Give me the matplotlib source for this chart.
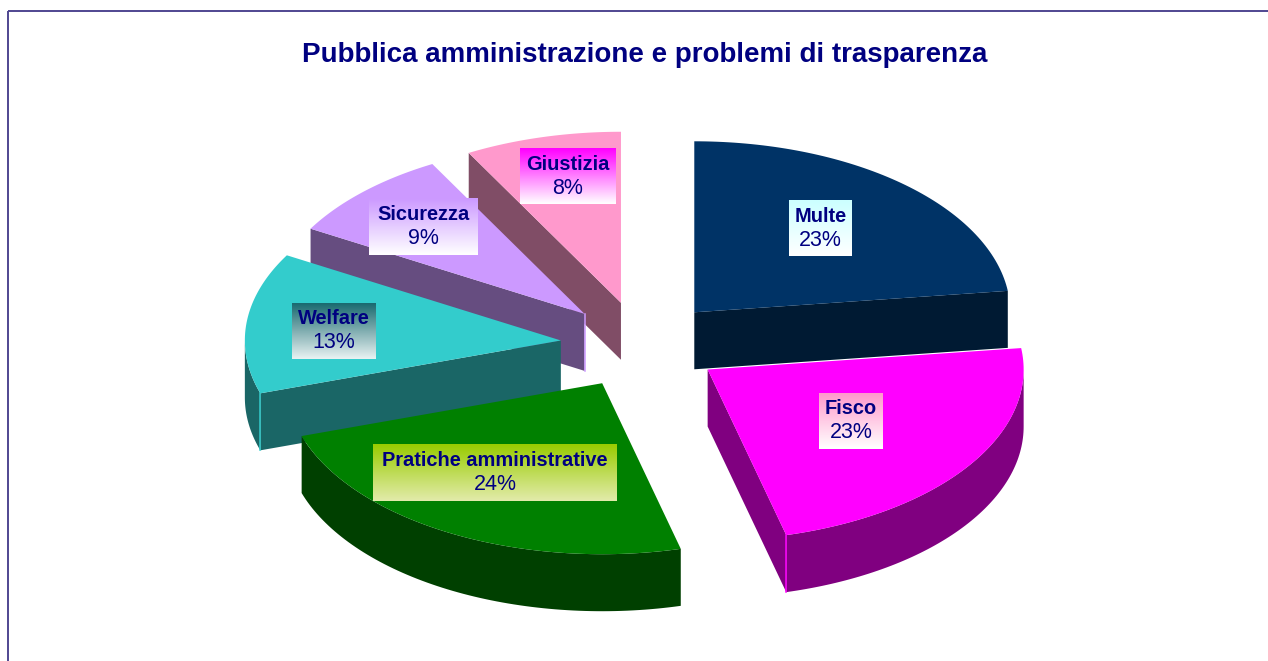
import numpy as np
import matplotlib
matplotlib.use("Agg")
import matplotlib.pyplot as plt
from matplotlib.colors import LinearSegmentedColormap
from matplotlib.patches import Polygon, Rectangle

title = "Pubblica amministrazione e problemi di trasparenza"
categories = ["Multe", "Fisco", "Pratiche amministrative", "Welfare", "Sicurezza", "Giustizia"]
values = [23, 23, 24, 13.3, 8.7, 8]
top_colors = ["#003366", "#FF00FF", "#008000", "#33CCCC", "#CC99FF", "#FF99CC"]
side_colors = ["#001A33", "#800080", "#004000", "#1A6666", "#664D80", "#804D66"]
# label boxes: left, right, top, bottom in pixels, and gradient top/bottom colours
label_boxes = [(789, 852, 200, 256), (819, 883, 393, 449), (373, 617, 444, 501),
               (292, 376, 303, 359), (369, 478, 198, 255), (520, 616, 148, 204)]
label_grads = [("#CCFFFF", "#FFFFFF"), ("#FF99CC", "#FFFFFF"), ("#99CC00", "#E2EBAA"),
               ("#1A6A70", "#E8F2F2"), ("#CC99FF", "#FFFFFF"), ("#FF00FF", "#FFFFFF")]

navy = "#000080"
cx, cy = 641, 345  # pie centre
rx, ry = 316, 171
explode = 0.255
depth = 57

plt.rcParams["font.family"] = ["Liberation Sans", "DejaVu Sans"]

fig = plt.figure(figsize=(12.68, 6.61), dpi=100)
ax = fig.add_axes([0, 0, 1, 1])
ax.set_xlim(0, 1268)
ax.set_ylim(661, 0)
ax.axis("off")

# frame runs off the right and bottom of the picture
ax.add_patch(Rectangle((8, 11), 1300, 700, fill=False, ec="#4F4690", lw=1.4, zorder=0))
ax.text(645, 55, title, ha="center", va="center", fontsize=20, fontweight="bold", color=navy)


def point(a, r=1.0):
    # a is degrees clockwise from 12 o'clock
    t = np.radians(a)
    return r * rx * np.sin(t), -r * ry * np.cos(t)


cum = np.cumsum([0] + values) * 3.6
wedges = []
for i in range(len(values)):
    a0, a1 = cum[i], cum[i + 1]
    ox, oy = point((a0 + a1) / 2, explode)
    wedges.append((i, a0, a1, cx + ox, cy + oy))

# back to front
draw_order = [5, 4, 3, 0, 2, 1]
for i, a0, a1, x0, y0 in [wedges[k] for k in draw_order]:
    arc = np.linspace(a0, a1, 80)
    xs, ys = point(arc)
    xs, ys = x0 + xs, y0 + ys
    z = 2 + draw_order.index(i)

    # radial side faces: start edge shows on the left half, end edge on the right half
    corners = []
    for a, visible in ((a0, point(a0)[0] < 0), (a1, point(a1)[0] > 0)):
        if visible:
            ex, ey = point(a)
            ax.add_patch(Polygon([(x0, y0), (x0 + ex, y0 + ey), (x0 + ex, y0 + ey + depth), (x0, y0 + depth)],
                                 fc=side_colors[i], ec="none", zorder=z))
            if 90 < a < 270:
                corners.append((x0 + ex, y0 + ey))

    # outer rim for the front half of the ellipse
    lo, hi = max(a0, 90), min(a1, 270)
    if hi > lo:
        ra = np.linspace(lo, hi, 80)
        rxs, rys = point(ra)
        rxs, rys = x0 + rxs, y0 + rys
        ax.fill(np.r_[rxs, rxs[::-1]], np.r_[rys, rys[::-1] + depth], fc=side_colors[i], ec="none", zorder=z)

    ax.fill(np.r_[x0, xs], np.r_[y0, ys], fc=top_colors[i], ec="none", zorder=z + 0.1)

    # lit edges where a radial face meets the rim
    for px, py in corners:
        ax.plot([px, px], [py, py + depth], color=top_colors[i], lw=1.1, zorder=z + 0.2)
    if categories[i] == "Sicurezza":
        ax.plot([x0, x0], [y0, y0 + depth], color=top_colors[i], lw=1.1, zorder=z + 0.2)

for name, v, box, grad in zip(categories, values, label_boxes, label_grads):
    left, right, top, bottom = box
    cmap = LinearSegmentedColormap.from_list("g", grad)
    ax.imshow(np.linspace(0, 1, 64).reshape(-1, 1), extent=(left, right, bottom, top), cmap=cmap,
              aspect="auto", zorder=20)
    xm = (left + right) / 2
    ax.text(xm, top + 16, name, ha="center", va="center", fontsize=14.4, fontweight="bold", color=navy, zorder=21)
    ax.text(xm, top + 40, f"{v:.0f}%", ha="center", va="center", fontsize=15.5, color=navy, zorder=21)

ax.set_xlim(0, 1268)
ax.set_ylim(661, 0)
fig.savefig("out.png", dpi=100)
